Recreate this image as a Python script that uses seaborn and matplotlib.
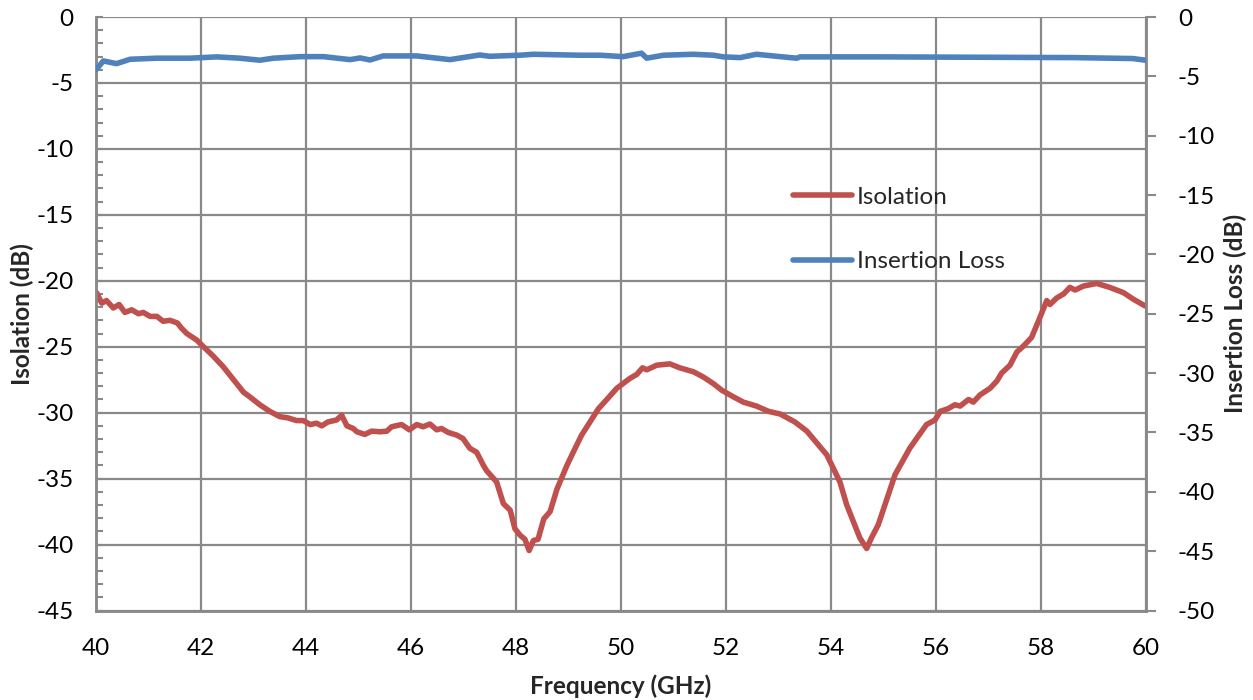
import numpy as np
import pandas as pd
import matplotlib
matplotlib.use("Agg")
import matplotlib.pyplot as plt
from matplotlib.ticker import MultipleLocator
import seaborn as sns

iso_freq = [40.01, 40.11, 40.20, 40.33, 40.44, 40.55, 40.68, 40.81, 40.90, 41.03, 41.16, 41.28,
            41.41, 41.55, 41.63, 41.73, 41.92, 42.04, 42.23, 42.42, 42.62, 42.81, 42.93, 43.12,
            43.31, 43.50, 43.66, 43.82, 43.95, 44.08, 44.20, 44.30, 44.42, 44.58, 44.68, 44.78,
            44.90, 44.97, 45.12, 45.25, 45.41, 45.54, 45.63, 45.82, 45.97, 46.11, 46.23, 46.36,
            46.49, 46.58, 46.71, 46.87, 46.99, 47.12, 47.25, 47.38, 47.44, 47.63, 47.76, 47.89,
            47.98, 48.08, 48.17, 48.25, 48.33, 48.42, 48.53, 48.65, 48.78, 48.97, 49.09, 49.25,
            49.41, 49.57, 49.73, 49.92, 50.17, 50.30, 50.41, 50.49, 50.68, 50.93, 51.12, 51.38,
            51.57, 51.76, 51.92, 52.14, 52.33, 52.58, 52.81, 53.03, 53.31, 53.54, 53.73, 53.92,
            54.08, 54.17, 54.30, 54.42, 54.55, 54.68, 54.77, 54.90, 55.06, 55.22, 55.38, 55.50,
            55.63, 55.82, 55.98, 56.08, 56.23, 56.36, 56.46, 56.62, 56.71, 56.84, 57.03, 57.16,
            57.25, 57.41, 57.54, 57.66, 57.82, 57.95, 58.11, 58.17, 58.30, 58.43, 58.55, 58.65,
            58.81, 59.06, 59.31, 59.57, 59.76, 59.98]
iso_db = [-20.9, -21.7, -21.5, -22.06, -21.8, -22.4, -22.2, -22.5, -22.4, -22.7, -22.7, -23.07,
          -23.0, -23.2, -23.6, -24.0, -24.5, -24.97, -25.7, -26.5, -27.5, -28.45, -28.8, -29.4,
          -29.9, -30.3, -30.4, -30.6, -30.6, -30.9, -30.8, -31.0, -30.7, -30.56, -30.2, -31.0,
          -31.2, -31.45, -31.65, -31.4, -31.45, -31.4, -31.07, -30.9, -31.3, -30.9, -31.07, -30.86,
          -31.3, -31.2, -31.5, -31.7, -31.96, -32.7, -33.0, -34.0, -34.4, -35.25, -36.9, -37.4,
          -38.8, -39.3, -39.6, -40.45, -39.7, -39.6, -38.05, -37.5, -35.8, -34.0, -33.0, -31.7,
          -30.7, -29.7, -29.0, -28.15, -27.4, -27.1, -26.6, -26.75, -26.4, -26.3, -26.6, -26.9,
          -27.3, -27.8, -28.3, -28.8, -29.2, -29.5, -29.9, -30.1, -30.7, -31.4, -32.3, -33.2,
          -34.5, -35.25, -37.0, -38.2, -39.5, -40.3, -39.5, -38.5, -36.6, -34.7, -33.55, -32.7,
          -31.96, -30.9, -30.56, -29.9, -29.7, -29.4, -29.5, -29.0, -29.2, -28.65, -28.15, -27.6,
          -27.0, -26.4, -25.4, -24.97, -24.3, -23.07, -21.5, -21.8, -21.3, -21.0, -20.5, -20.7,
          -20.4, -20.2, -20.5, -20.9, -21.4, -21.9]

il_freq = [40.01, 40.14, 40.39, 40.65, 41.16, 41.79, 42.30, 42.74, 43.12, 43.38, 43.89, 44.33,
           44.84, 45.03, 45.22, 45.47, 46.11, 46.74, 47.31, 47.50, 48.08, 48.33, 49.22, 49.60,
           50.04, 50.39, 50.49, 50.81, 51.38, 51.76, 51.95, 52.27, 52.58, 53.03, 53.35, 53.41,
           54.93, 58.62, 59.75, 59.99]
il_db = [-4.4, -3.7, -3.93, -3.56, -3.47, -3.47, -3.36, -3.47, -3.64, -3.47, -3.34, -3.34,
         -3.59, -3.45, -3.62, -3.28, -3.28, -3.59, -3.2, -3.31, -3.22, -3.14, -3.22, -3.22,
         -3.34, -3.05, -3.47, -3.22, -3.14, -3.22, -3.36, -3.42, -3.14, -3.34, -3.47, -3.36,
         -3.36, -3.42, -3.5, -3.64]

x_ticks = [40, 42, 44, 46, 48, 50, 52, 54, 56, 58, 60]
left_ticks = [0, -5, -10, -15, -20, -25, -30, -35, -40, -45]
right_ticks = [0, -5, -10, -15, -20, -25, -30, -35, -40, -45, -50]

iso_color = "#C0504D"
il_color = "#4F81BD"
axis_gray = "#898989"

sns.set_style("white")
plt.rcParams['font.family'] = ['Lato', 'DejaVu Sans']

fig = plt.figure(figsize=(12.53, 7.0), dpi=100)
ax = fig.add_axes([96/1253, 1 - 610.5/700, (1146-96)/1253, (610.5-17)/700])
ax2 = ax.twinx()

iso_df = pd.DataFrame({"Frequency": iso_freq, "dB": iso_db})
il_df = pd.DataFrame({"Frequency": il_freq, "dB": il_db})

sns.lineplot(data=iso_df, x="Frequency", y="dB", ax=ax, color=iso_color, lw=4.0,
             label="Isolation", legend=False, solid_capstyle="round", zorder=3)
sns.lineplot(data=il_df, x="Frequency", y="dB", ax=ax2, color=il_color, lw=4.0,
             label="Insertion Loss", legend=False, solid_capstyle="round", zorder=3)

ax.set_xlim(40, 60)
ax.set_ylim(-45, 0)
ax2.set_ylim(-50, 0)
ax.set_xticks(x_ticks)
ax.set_xticklabels([str(t) for t in x_ticks])
ax.set_yticks(left_ticks)
ax.set_yticklabels([str(t) for t in left_ticks])
ax2.set_yticks(right_ticks)
ax2.set_yticklabels([str(t) for t in right_ticks])
ax.xaxis.set_minor_locator(MultipleLocator(0.4))
ax.yaxis.set_minor_locator(MultipleLocator(1))

ax.grid(True, which="major", color=axis_gray, lw=1.6)
ax.set_axisbelow(True)

for a in (ax, ax2):
    for s in a.spines.values():
        s.set_color(axis_gray)
        s.set_linewidth(1.8)
    a.spines["top"].set_visible(False)

ax.tick_params(axis="x", which="both", direction="in", length=5, width=1.5, color=axis_gray,
               labelsize=17.5, pad=20, labelcolor="black")
ax.tick_params(axis="y", which="both", direction="in", length=5, width=1.5, color=axis_gray,
               labelsize=17.5, pad=16, labelcolor="black")
ax2.tick_params(axis="y", which="major", direction="out", length=7, width=1.5, color=axis_gray,
                labelsize=17.5, pad=16, labelcolor="black")

ax.set_xlabel("Frequency (GHz)", fontsize=17.5, fontweight="bold", labelpad=11)
ax.set_ylabel("Isolation (dB)", fontsize=17.5, fontweight="bold", labelpad=2)
ax2.set_ylabel("Insertion Loss (dB)", fontsize=17.5, fontweight="bold", labelpad=6)

h1, l1 = ax.get_legend_handles_labels()
h2, l2 = ax2.get_legend_handles_labels()
leg = ax2.legend(h1 + h2, l1 + l2, loc="upper left", bbox_to_anchor=(0.655, 0.73),
                 frameon=False, fontsize=17.5, handlelength=2.4, handletextpad=0.2,
                 labelspacing=1.78, borderaxespad=0)

fig.savefig("out.png", dpi=100)
